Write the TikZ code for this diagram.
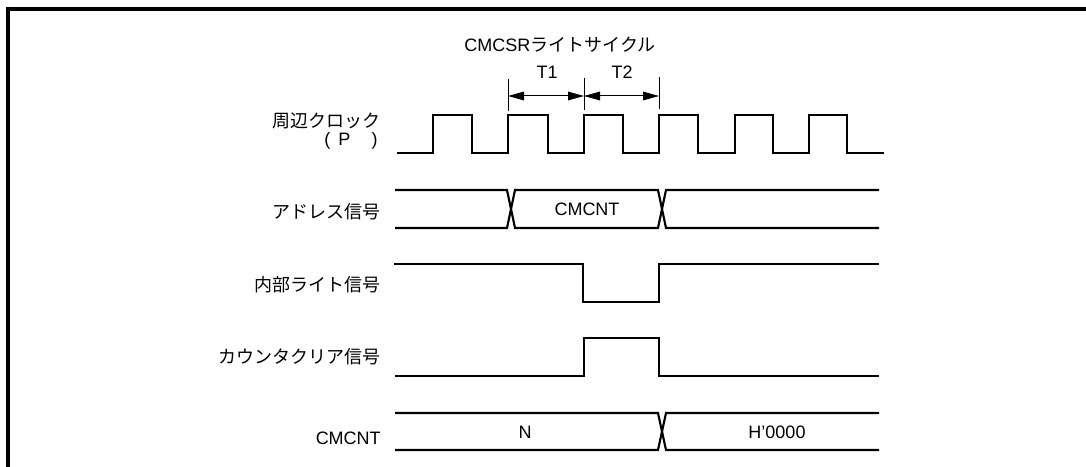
\documentclass[tikz,border=0pt]{standalone}
\usepackage{fontspec}
\setmainfont{Liberation Sans}
\newfontfamily\jp{Noto Sans CJK JP}
\usetikzlibrary{arrows.meta}
\tikzset{
  sig/.style={line width=1.6pt},
  tickline/.style={line width=0.75pt},
  span/.style={line width=0.75pt,{Triangle[length=12pt,width=6.5pt]}-{Triangle[length=12pt,width=6.5pt]}},
  lbl/.style={anchor=east,inner sep=0pt},
  txt/.style={inner sep=0pt}
}
\begin{document}
\begin{tikzpicture}[x=0.75pt,y=-0.75pt,font=\fontsize{13.5}{16}\selectfont]
\useasboundingbox (0,0) rectangle (1086,467);
% frame
\draw[line width=2.4pt] (8,467) -- (8,9) -- (1086,9);
% cycle marks
\node[txt] (cyc) at (560,45) {CMCSR{\jp ライトサイクル}};
\coordinate (m0) at (508,96);
\coordinate (m1) at (584,96);
\coordinate (m2) at (659,96);
\draw[tickline] (m0) ++(0,-17) -- ++(0,32);
\draw[tickline] (m1) ++(0,-18) -- ++(0,32);
\draw[tickline] (m2) ++(0,-19) -- ++(0,32);
\draw[span] (m0) -- (m1);
\draw[span] (m1) -- (m2);
\node[txt] (t1) at (547,72) {T1};
\node[txt] (t2) at (622,72) {T2};
% signal names
\node[lbl] (clk) at (381,121) {\jp 周辺クロック};
\node[lbl] (clkp) at (378,141) {(\hspace{6pt}P\hspace{16pt})};
\node[lbl] (adr) at (381,212) {\jp アドレス信号};
\node[lbl] (wr) at (381,285) {\jp 内部ライト信号};
\node[lbl] (clr) at (381,357) {\jp カウンタクリア信号};
\node[lbl] (cnt) at (381,438) {CMCNT};
% peripheral clock
\draw[sig] (397,153) -| (433,115) -| (472,153) -| (508,115) -| (548,153)
  -| (584,115) -| (623,153) -| (659,115) -| (698,153) -| (735,115)
  -| (773,153) -| (809,115) -| (847,153) -- (884,153);
% address bus
\draw[sig] (395,190) -- (507,190) -- (515,228) -- (658,228) -- (666,190) -- (879,190);
\draw[sig] (395,228) -- (507,228) -- (515,190) -- (658,190) -- (666,228) -- (879,228);
\node[txt] (adrv) at (587,209) {CMCNT};
% internal write
\draw[sig] (394,264) -| (583,302) -| (659,264) -- (879,264);
% counter clear
\draw[sig] (395,376) -| (584,338) -| (659,376) -- (879,376);
% counter value
\draw[sig] (395,413) -- (658,413) -- (666,450) -- (879,450);
\draw[sig] (395,450) -- (658,450) -- (666,413) -- (879,413);
\node[txt] (cntn) at (525,432) {N};
\node[txt] (cntz) at (777,432) {H'0000};
\end{tikzpicture}
\end{document}
